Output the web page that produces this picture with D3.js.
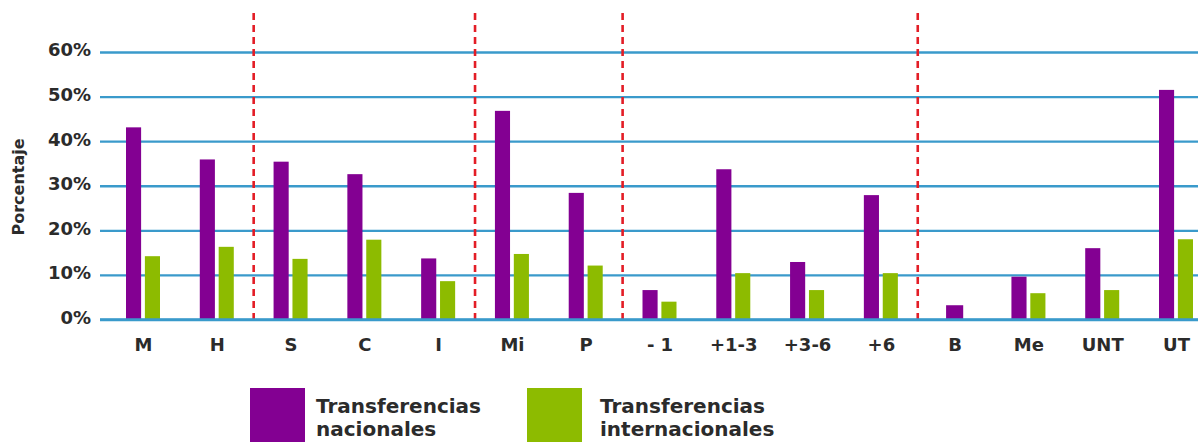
<!DOCTYPE html>
<html>
<head>
<meta charset="utf-8">
<script src="https://cdn.jsdelivr.net/npm/d3@7/dist/d3.min.js"></script>
<style>
  html, body { margin: 0; padding: 0; background: #ffffff; }
  svg { display: block; }
  text { font-family: "DejaVu Sans", sans-serif; font-weight: bold; fill: #2b2b2b; }
</style>
</head>
<body>
<svg id="chart" width="1198" height="442"></svg>
<script>
// ---- data ----
const categories = ["M", "H", "S", "C", "I", "Mi", "P", "- 1", "+1-3", "+3-6", "+6", "B", "Me", "UNT", "UT"];
const groups = [["M", "H"], ["S", "C", "I"], ["Mi", "P"], ["- 1", "+1-3", "+3-6", "+6"], ["B", "Me", "UNT", "UT"]];
const nacionales = [43.1, 35.9, 35.4, 32.6, 13.7, 46.8, 28.4, 6.6, 33.7, 12.9, 27.9, 3.2, 9.6, 16.0, 51.5];
const internacionales = [14.2, 16.3, 13.6, 17.9, 8.6, 14.7, 12.1, 4.0, 10.4, 6.6, 10.4, null, 5.9, 6.6, 18.0];
const yTicks = [0, 10, 20, 30, 40, 50, 60];
const seriesKeys = ["nac", "int"];
const seriesNames = [["Transferencias", "nacionales"], ["Transferencias", "internacionales"]];

// ---- styles ----
const colors = { nac: "#830092", int: "#8dbb00" };
const gridColor = "#3a9acb";
const sepColor = "#e31d26";

const svg = d3.select("#chart");

const y = d3.scaleLinear().domain([0, 60]).range([319.5, 52]);
const x = d3.scalePoint().domain(categories).range([143, 1176]);
const inner = d3.scaleBand().domain(seriesKeys).range([-17, 17]).paddingInner(0.2);

// gridlines
const yAxis = d3.axisLeft(y).tickValues(yTicks).tickSize(-(1198 - 100)).tickFormat(d => d + "%").tickPadding(9);
const gy = svg.append("g").attr("transform", "translate(100,0)").call(yAxis);
gy.select(".domain").remove();
gy.selectAll(".tick line").attr("stroke", gridColor).attr("stroke-width", 2.4);
gy.selectAll(".tick text")
  .attr("font-size", 18)
  .attr("font-family", "'DejaVu Sans', sans-serif")
  .attr("font-weight", "bold")
  .attr("fill", "#2b2b2b")
  .attr("dy", "0.22em");

// y title
svg.append("text")
  .attr("transform", "translate(24,187) rotate(-90)")
  .attr("text-anchor", "middle")
  .attr("font-size", 16)
  .text("Porcentaje");

// separators between groups
const seps = [];
for (let g = 0; g < groups.length - 1; g++) {
  const a = groups[g][groups[g].length - 1];
  const b = groups[g + 1][0];
  seps.push((x(a) + x(b)) / 2);
}
svg.append("g").selectAll("line").data(seps).join("line")
  .attr("x1", d => d).attr("x2", d => d)
  .attr("y1", 13).attr("y2", 319)
  .attr("stroke", sepColor).attr("stroke-width", 2.6)
  .attr("stroke-dasharray", "7,5");

// bars
const rows = categories.map((c, i) => ({ c, nac: nacionales[i], int: internacionales[i] }));
const bw = inner.bandwidth();
seriesKeys.forEach(k => {
  svg.append("g").selectAll("rect")
    .data(rows.filter(r => r[k] != null))
    .join("rect")
    .attr("x", r => {
      const other = k === "nac" ? r.int : r.nac;
      return other == null ? x(r.c) - bw / 2 - 1 : x(r.c) + inner(k);
    })
    .attr("width", r => ((k === "nac" ? r.int : r.nac) == null ? bw + 2 : bw))
    .attr("y", r => y(r[k]))
    .attr("height", r => y(0) - y(r[k]))
    .attr("fill", colors[k]);
});

// baseline redraw
svg.append("line").attr("x1", 100).attr("x2", 1198).attr("y1", y(0)).attr("y2", y(0))
  .attr("stroke", gridColor).attr("stroke-width", 2.4);

// x axis labels
const xAxis = d3.axisBottom(x).tickSize(0).tickPadding(0);
const gx = svg.append("g").attr("transform", "translate(0,337)").call(xAxis);
gx.select(".domain").remove();
gx.selectAll(".tick text")
  .attr("font-size", 18)
  .attr("font-family", "'DejaVu Sans', sans-serif")
  .attr("font-weight", "bold")
  .attr("fill", "#2b2b2b")
  .attr("dy", "0.8em");

// legend
const legendX = [250, 527];
const legend = svg.append("g").selectAll("g").data(seriesKeys).join("g")
  .attr("transform", (d, i) => `translate(${legendX[i]},388)`);
legend.append("rect").attr("width", 55).attr("height", 60).attr("fill", d => colors[d]);
legend.each(function (d, i) {
  const t = d3.select(this).append("text").attr("x", i === 0 ? 66 : 73).attr("font-size", 20);
  t.append("tspan").attr("x", i === 0 ? 66 : 73).attr("y", 25).text(seriesNames[i][0]);
  t.append("tspan").attr("x", i === 0 ? 66 : 73).attr("y", 48).text(seriesNames[i][1]);
});
</script>
</body>
</html>
